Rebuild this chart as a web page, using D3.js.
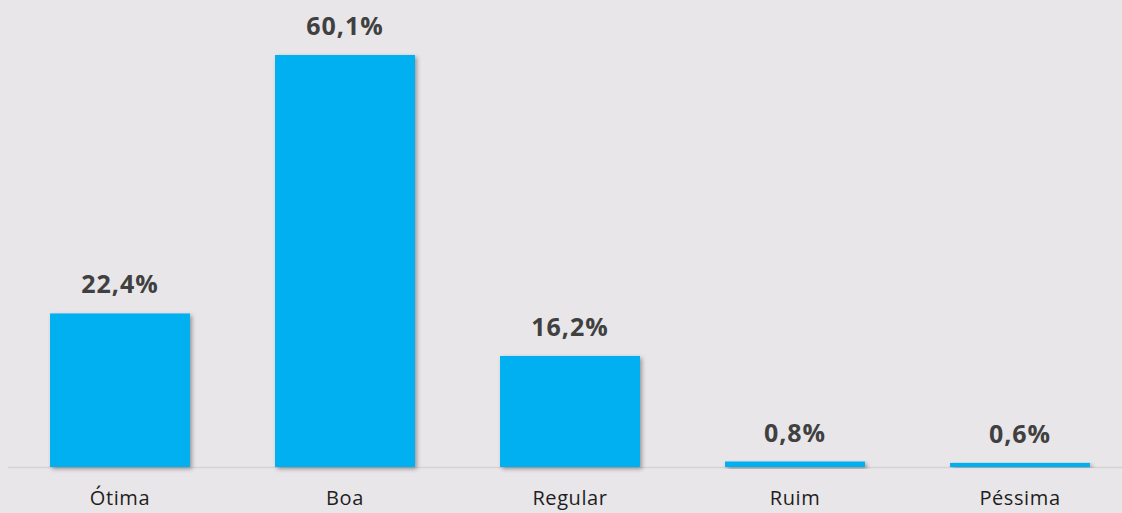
<!DOCTYPE html>
<html><head><meta charset="utf-8">
<script src="https://cdn.jsdelivr.net/npm/d3@7"></script>
<style>html,body{margin:0;padding:0;background:#e8e6e9;}svg{display:block;}</style>
</head><body>
<script>
const categories = ["Ótima","Boa","Regular","Ruim","Péssima"];
const values = [22.4, 60.1, 16.2, 0.8, 0.6];
const valueLabels = ["22,4%","60,1%","16,2%","0,8%","0,6%"];

const W = 1122, H = 513, baseY = 467;
const svg = d3.select("body").append("svg").attr("width", W).attr("height", H);
svg.append("rect").attr("width", W).attr("height", H).attr("fill", "#e8e6e9");

const defs = svg.append("defs");
const f = defs.append("filter").attr("id","sh").attr("x","-10%").attr("y","-10%").attr("width","130%").attr("height","130%");
f.append("feDropShadow").attr("dx",2).attr("dy",2).attr("stdDeviation",2).attr("flood-color","#000").attr("flood-opacity",0.35);

const x = d3.scaleBand().domain(categories).range([7.5, 1132.5]).paddingInner(0.378).paddingOuter(0.189);
const y = d3.scaleLinear().domain([0, 60.1]).range([baseY, 55]);

svg.append("line").attr("x1", 8).attr("x2", W).attr("y1", baseY + 0.5).attr("y2", baseY + 0.5)
  .attr("stroke", "#d4d3d5").attr("stroke-width", 1.5);

const data = categories.map((c, i) => ({c, v: values[i], l: valueLabels[i]}));

svg.selectAll("rect.bar").data(data).join("rect").attr("class","bar")
  .attr("x", d => x(d.c)).attr("width", x.bandwidth())
  .attr("y", d => y(d.v)).attr("height", d => baseY - y(d.v))
  .attr("fill", "#00b0f0").attr("filter","url(#sh)");

svg.selectAll("text.val").data(data).join("text").attr("class","val")
  .attr("x", d => x(d.c) + x.bandwidth()/2).attr("y", d => y(d.v) - 20)
  .attr("text-anchor","middle").attr("font-family","'Open Sans', sans-serif")
  .attr("font-weight","bold").attr("font-size", 25).attr("letter-spacing", 1).attr("fill","#404040")
  .text(d => d.l);

svg.selectAll("text.cat").data(data).join("text").attr("class","cat")
  .attr("x", d => x(d.c) + x.bandwidth()/2).attr("y", 505)
  .attr("text-anchor","middle").attr("font-family","'Open Sans', sans-serif")
  .attr("font-size", 20).attr("letter-spacing", 0.6).attr("fill","#1e1e1e")
  .text(d => d.c);
</script>
</body></html>
